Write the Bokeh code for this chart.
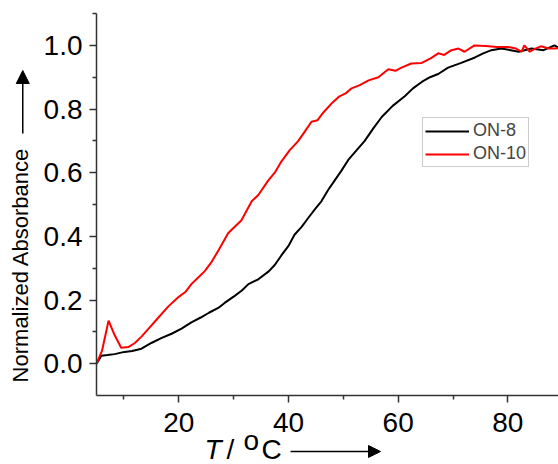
from bokeh.plotting import figure
from bokeh.models import (Range1d, FixedTicker, Label, Arrow, NormalHead,
                          Legend, LegendItem)
from bokeh.embed import file_html
from bokeh.resources import INLINE

# ---- data ----
T_on8 = [5, 5.9, 7, 8.3, 10.1, 11.5, 13.2, 15, 16.8, 18.7, 20.5, 22.3, 24, 25.5,
         27.2, 28.3, 30.2, 31.5, 32.7, 34.5, 36.4, 37.5, 38.7, 40, 41.1, 42.4,
         43.7, 44.8, 46, 47.2, 48.4, 49.6, 50.9, 52.4, 53.9, 55.5, 57, 59, 61.2,
         62.7, 64.3, 65.8, 67.3, 69.1, 71.5, 74, 75.5, 77, 78.8, 80.5, 82, 84.3,
         86.5, 88.5, 89.5]
A_on8 = [0, 0.025, 0.027, 0.03, 0.037, 0.04, 0.047, 0.065, 0.08, 0.094, 0.11,
         0.13, 0.145, 0.16, 0.175, 0.19, 0.213, 0.23, 0.25, 0.265, 0.29, 0.31,
         0.34, 0.37, 0.405, 0.43, 0.46, 0.485, 0.51, 0.545, 0.575, 0.605, 0.64,
         0.67, 0.70, 0.74, 0.775, 0.81, 0.84, 0.865, 0.885, 0.9, 0.91, 0.93,
         0.945, 0.962, 0.975, 0.985, 0.99, 0.985, 0.98, 0.99, 0.985, 1.0, 0.99]

T_on10 = [5, 6, 7.2, 8.3, 9.5, 10.8, 12, 13.2, 14.5, 16.3, 18.1, 20, 21.2, 22.3,
          23.5, 24.7, 26, 27.2, 29, 30.2, 31.4, 33.3, 34.5, 36.3, 37.5, 38.7,
          40.2, 41.8, 43, 44.2, 45.3, 46.4, 48, 49.3, 50.5, 51.5, 53, 54.6, 56.4,
          58.2, 59.5, 60.6, 62.4, 64.3, 66, 67.3, 68.4, 69.7, 71, 72.1, 73.9, 76,
          78, 80, 81.5, 82.5, 83, 84, 85, 86, 87.5, 88.5, 89.5]
A_on10 = [0, 0.04, 0.135, 0.09, 0.05, 0.052, 0.065, 0.085, 0.11, 0.145, 0.18,
          0.21, 0.225, 0.25, 0.27, 0.29, 0.32, 0.355, 0.41, 0.43, 0.45, 0.51,
          0.53, 0.575, 0.60, 0.635, 0.67, 0.70, 0.73, 0.76, 0.765, 0.79, 0.82,
          0.84, 0.85, 0.865, 0.875, 0.89, 0.90, 0.925, 0.92, 0.93, 0.943, 0.945,
          0.96, 0.975, 0.97, 0.985, 0.99, 0.98, 1.0, 0.998, 0.995, 0.995, 0.99,
          0.98, 1.0, 0.98, 0.99, 0.997, 0.99, 0.99, 0.992]

series_names = ["ON-8", "ON-10"]
x_major = [20, 40, 60, 80]
x_minor = [10, 30, 50, 70, 90]
y_major = [0.0, 0.2, 0.4, 0.6, 0.8, 1.0]
y_minor = [0.1, 0.3, 0.5, 0.7, 0.9, 1.1]
x_axis_span = (5, 89.23)
y_axis_span = (-0.1, 1.1)

FONT = "Liberation Sans"

p = figure(width=558, height=464, x_range=Range1d(-12.50, 89.23),
           y_range=Range1d(-0.3168, 1.141), output_backend="svg",
           toolbar_location=None, min_border_left=0, min_border_right=0,
           min_border_top=0, min_border_bottom=0)
p.outline_line_color = None
p.xgrid.visible = False
p.ygrid.visible = False
p.background_fill_color = "white"
p.border_fill_color = "white"

r8 = p.line(T_on8, A_on8, line_color="black", line_width=2)
r10 = p.line(T_on10, A_on10, line_color="#ff0000", line_width=2)

xa, ya = p.xaxis[0], p.yaxis[0]
xa.fixed_location = y_axis_span[0]
xa.bounds = x_axis_span
ya.fixed_location = x_axis_span[0]
ya.bounds = y_axis_span

for ax, maj, mnr in ((xa, x_major, x_minor), (ya, y_major, y_minor)):
    ax.ticker = FixedTicker(ticks=maj, minor_ticks=mnr)
    ax.axis_line_color = "#333333"
    ax.axis_line_width = 1.5
    ax.major_tick_line_color = "#333333"
    ax.minor_tick_line_color = "#333333"
    ax.major_tick_line_width = 1.5
    ax.minor_tick_line_width = 1.5
    ax.major_tick_in = 0
    ax.minor_tick_in = 0
    ax.major_tick_out = 7
    ax.minor_tick_out = 4
    ax.major_label_text_font = FONT
    ax.major_label_text_font_size = "28px"
    ax.major_label_text_color = "black"
    ax.major_label_standoff = 7
xa.major_label_standoff = 11
ya.major_label_overrides = {v: f"{v:.1f}" for v in y_major}

legend = Legend(items=[LegendItem(label=series_names[0], renderers=[r8]),
                       LegendItem(label=series_names[1], renderers=[r10])],
                location=(422, 297))
legend.border_line_color = "#999999"
legend.border_line_width = 1
legend.background_fill_color = "white"
legend.background_fill_alpha = 1
legend.label_text_font = FONT
legend.label_text_font_size = "18px"
legend.glyph_width = 44
legend.glyph_height = 20
legend.label_height = 20
legend.spacing = 2
legend.padding = 2
legend.margin = 0
legend.label_standoff = 4
p.add_layout(legend)

# y axis title with arrow
p.add_layout(Label(x=-8.86, y=0.31, text="Normalized Absorbance", angle=1.5708,
                   text_font=FONT, text_font_size="22px", text_align="center",
                   text_baseline="middle", text_color="black"))
p.add_layout(Arrow(x_start=-8.44, y_start=0.723, x_end=-8.44, y_end=0.921,
                   line_color="black", line_width=1.5,
                   end=NormalHead(size=13, fill_color="black", line_color="black")))

# x axis title with arrow
base_y = -0.270
p.add_layout(Label(x=24.69, y=base_y, text="T", text_font=FONT,
                   text_font_style="italic", text_font_size="28px",
                   text_baseline="alphabetic", text_color="black"))
p.add_layout(Label(x=28.7, y=base_y, text="/", text_font=FONT,
                   text_font_size="28px", text_baseline="alphabetic",
                   text_color="black"))
p.add_layout(Label(x=31.8, y=base_y + 0.028, text="o", text_font=FONT,
                   text_font_size="28px", text_baseline="alphabetic",
                   text_color="black"))
p.add_layout(Label(x=35.08, y=base_y, text="C", text_font=FONT,
                   text_font_size="28px", text_baseline="alphabetic",
                   text_color="black"))
p.add_layout(Arrow(x_start=40.37, y_start=-0.276, x_end=56.78, y_end=-0.276,
                   line_color="black", line_width=1.5,
                   end=NormalHead(size=12, fill_color="black", line_color="black")))

open("out.html", "w").write(file_html(p, INLINE))
